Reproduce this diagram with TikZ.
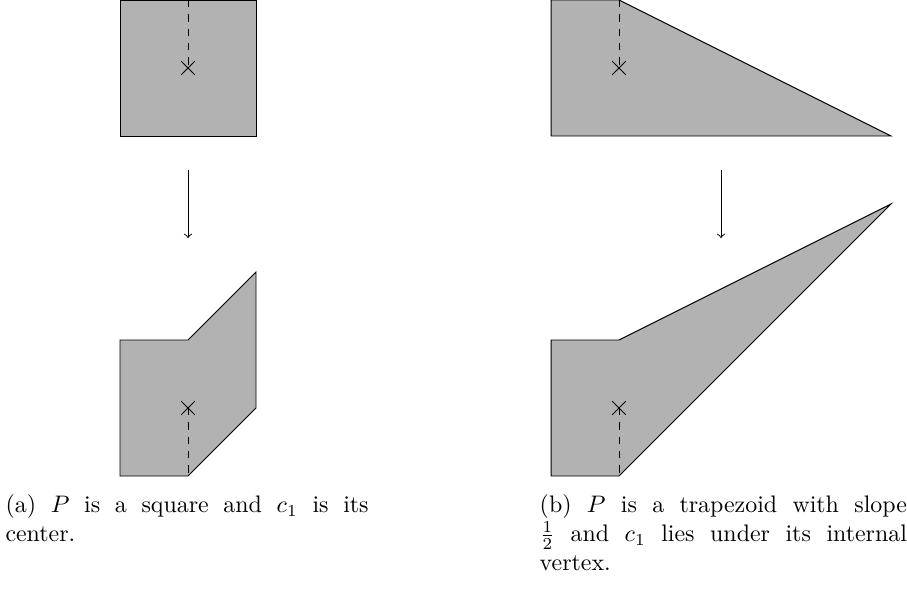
\documentclass[tikz,border=0pt]{standalone}
\begin{document}
\begin{tikzpicture}[
  polyshape/.style={draw=black, fill=black!30, line join=miter},
  dropline/.style={draw=black, dashed},
  maparrow/.style={draw=black, ->},
  capbox/.style={anchor=north west, inner sep=0pt, align=justify, font=\normalsize},
  xmark/.pic={\draw[black] (-0.1,-0.1) -- (0.1,0.1) (-0.1,0.1) -- (0.1,-0.1);}
]
\useasboundingbox (0,0) rectangle (13.338,-8.647);
% ---------- (a) ----------
\begin{scope}[xshift=1.7647cm]
  \draw[polyshape] (0,0) -- (2,0) -- (2,-2) -- (0,-2) -- cycle;
  \coordinate (aTopV) at (1,0);
  \coordinate (aTopC) at (1,-1);
  \draw[dropline] (aTopV) -- (aTopC);
  \pic at (aTopC) {xmark};
  \coordinate (aArS) at (1,-2.5);
  \coordinate (aArE) at (1,-3.5);
  \draw[maparrow] (aArS) -- (aArE);
  \draw[polyshape] (0,-5) -- (1,-5) -- (2,-4) -- (2,-6) -- (1,-7) -- (0,-7) -- cycle;
  \coordinate (aBotC) at (1,-6);
  \coordinate (aBotV) at (1,-7);
  \draw[dropline] (aBotC) -- (aBotV);
  \pic at (aBotC) {xmark};
\end{scope}
% ---------- (b) ----------
\begin{scope}[xshift=8.103cm]
  \draw[polyshape] (0,0) -- (1,0) -- (5,-2) -- (0,-2) -- cycle;
  \coordinate (bTopV) at (1,0);
  \coordinate (bTopC) at (1,-1);
  \draw[dropline] (bTopV) -- (bTopC);
  \pic at (bTopC) {xmark};
  \coordinate (bArS) at (2.5,-2.5);
  \coordinate (bArE) at (2.5,-3.5);
  \draw[maparrow] (bArS) -- (bArE);
  \draw[polyshape] (0,-5) -- (1,-5) -- (5,-3) -- (1,-7) -- (0,-7) -- cycle;
  \coordinate (bBotC) at (1,-6);
  \coordinate (bBotV) at (1,-7);
  \draw[dropline] (bBotC) -- (bBotV);
  \pic at (bBotC) {xmark};
\end{scope}
% ---------- captions ----------
\node[capbox, text width=5.34cm] (capA) at (0.074,-7.27)
  {(a) $P$ is a square and $c_1$ is its\linebreak center.};
\node[capbox, text width=5.40cm] (capB) at (7.93,-7.27)
  {(b) $P$ is a trapezoid with slope\linebreak $\frac{1}{2}$ and $c_1$ lies under its internal\linebreak vertex.};
\end{tikzpicture}
\end{document}
